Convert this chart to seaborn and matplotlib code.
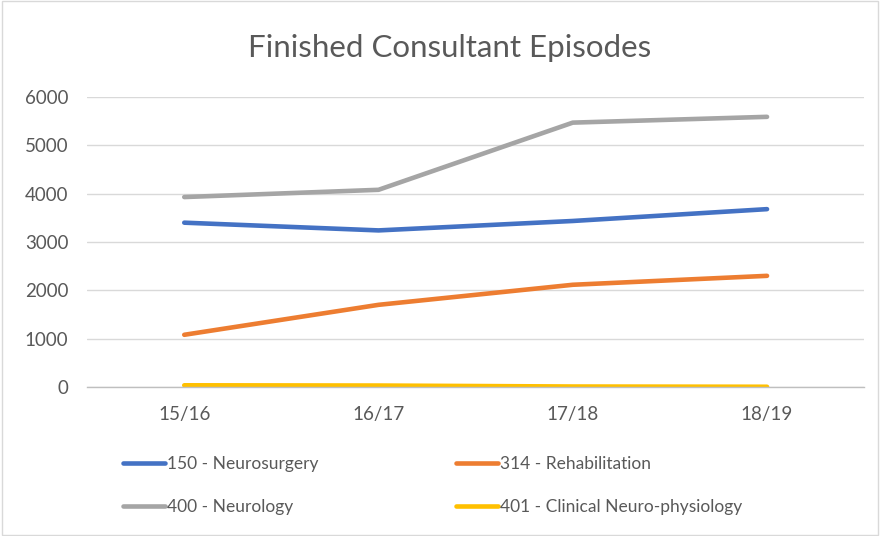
import pandas as pd
import matplotlib.pyplot as plt
import seaborn as sns
from matplotlib.patches import Rectangle

# Data
years = ['15/16', '16/17', '17/18', '18/19']
neurosurgery = [3400, 3240, 3435, 3680]
rehabilitation = [1080, 1700, 2115, 2300]
neurology = [3930, 4080, 5470, 5590]
neurophysiology = [35, 30, 10, 5]
series_names = ['150 - Neurosurgery', '314 - Rehabilitation',
                '400 - Neurology', '401 - Clinical Neuro-physiology']
colors = ['#4472C4', '#ED7D31', '#A5A5A5', '#FFC000']

# long format for seaborn
rows = []
for name, vals in zip(series_names, [neurosurgery, rehabilitation, neurology, neurophysiology]):
    for i, (yr, v) in enumerate(zip(years, vals)):
        rows.append({'year': yr, 'pos': i, 'series': name, 'value': v})
df = pd.DataFrame(rows)

sns.set_theme(style='white')
plt.rcParams['font.family'] = ['Lato', 'DejaVu Sans']

fig = plt.figure(figsize=(8.8, 5.36), dpi=100)
ax = fig.add_axes([0.099, 0.278, 0.883, 0.541])

sns.lineplot(data=df, x='pos', y='value', hue='series', hue_order=series_names,
             palette=colors, linewidth=3.3, ax=ax, legend=False,
             solid_capstyle='round')

ax.set_xlim(-0.5, 3.5)
ax.set_ylim(0, 6000)
ax.set_yticks(range(0, 6001, 1000))
ax.set_xticks(range(len(years)))
ax.set_xticklabels(years)
ax.yaxis.grid(True, color='#D9D9D9', linewidth=1)
ax.set_axisbelow(True)
for s in ['top', 'right', 'left']:
    ax.spines[s].set_visible(False)
ax.spines['bottom'].set_color('#BFBFBF')
ax.spines['bottom'].set_linewidth(1)
ax.tick_params(axis='both', length=0, labelsize=13.5, labelcolor='#595959')
ax.tick_params(axis='y', pad=13.5)
ax.tick_params(axis='x', pad=14)
ax.set_xlabel('')
ax.set_ylabel('')

fig.text(0.511, 0.91, 'Finished Consultant Episodes', ha='center', va='center',
         fontsize=22.5, color='#595959')

# legend is filled row by row in the reference
order = [0, 2, 1, 3]
handles = [plt.Line2D([0], [0], color=colors[i], lw=3.3, solid_capstyle='round') for i in order]
labels = [series_names[i] for i in order]
fig.legend(handles, labels, loc='center left', bbox_to_anchor=(0.122, 0.094),
           ncol=2, frameon=False, fontsize=12.5, labelcolor='#595959',
           handlelength=2.4, handletextpad=0.15, columnspacing=7.9,
           labelspacing=1.55)

fig.patches.append(Rectangle((0.002, 0.002), 0.996, 0.996, transform=fig.transFigure,
                             fill=False, edgecolor='#D9D9D9', linewidth=1))

fig.savefig('out.png', dpi=100, facecolor='white')
